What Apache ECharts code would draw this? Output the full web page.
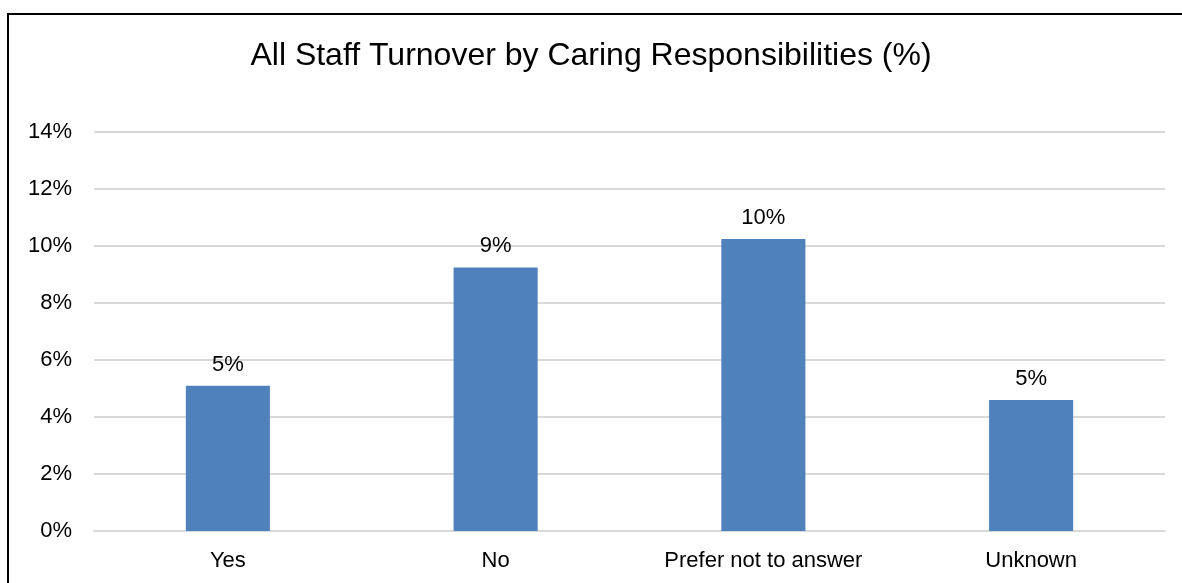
<!DOCTYPE html>
<html>
<head>
<meta charset="utf-8">
<script src="https://cdn.jsdelivr.net/npm/echarts@6/dist/echarts.min.js"></script>
<style>
html,body{margin:0;padding:0;background:#fff;}
#c{width:1182px;height:583px;}
</style>
</head>
<body>
<div id="c"></div>
<script>
const titleText = 'All Staff Turnover by Caring Responsibilities (%)';
const categories = ['Yes', 'No', 'Prefer not to answer', 'Unknown'];
const values = [5.1, 9.25, 10.25, 4.6];
const yTicks = [0, 2, 4, 6, 8, 10, 12, 14];

const font = '"Liberation Sans", Arial, sans-serif';
const chart = echarts.init(document.getElementById('c'), null, {renderer: 'canvas'});
chart.setOption({
  animation: false,
  backgroundColor: '#ffffff',
  title: {
    text: titleText,
    left: 'center',
    top: 35,
    textStyle: {fontFamily: font, fontSize: 32, fontWeight: 'normal', color: '#000'}
  },
  graphic: [
    {type: 'line', shape: {x1: 8, y1: 14, x2: 1182, y2: 14}, style: {stroke: '#000', lineWidth: 2}},
    {type: 'line', shape: {x1: 8, y1: 13, x2: 8, y2: 583}, style: {stroke: '#000', lineWidth: 2}}
  ],
  grid: {left: 94, right: 17, top: 132, bottom: 52, containLabel: false},
  xAxis: {
    type: 'category',
    data: categories,
    axisLine: {show: true, lineStyle: {color: '#d9d9d9', width: 2}},
    axisTick: {show: false},
    axisLabel: {fontFamily: font, fontSize: 22, color: '#000', margin: 19}
  },
  yAxis: {
    type: 'value',
    min: yTicks[0],
    max: yTicks[yTicks.length - 1],
    interval: 2,
    axisLine: {show: false},
    axisTick: {show: false},
    splitLine: {lineStyle: {color: '#d9d9d9', width: 2}},
    axisLabel: {fontFamily: font, fontSize: 22, color: '#000', margin: 22, formatter: v => v + '%'}
  },
  series: [{
    type: 'bar',
    data: values,
    barWidth: '31.4%',
    itemStyle: {color: '#4f81bd'},
    label: {
      show: true,
      position: 'top',
      distance: 10,
      fontFamily: font,
      fontSize: 22,
      color: '#000',
      formatter: p => Math.round(p.value) + '%'
    }
  }]
});
</script>
</body>
</html>
